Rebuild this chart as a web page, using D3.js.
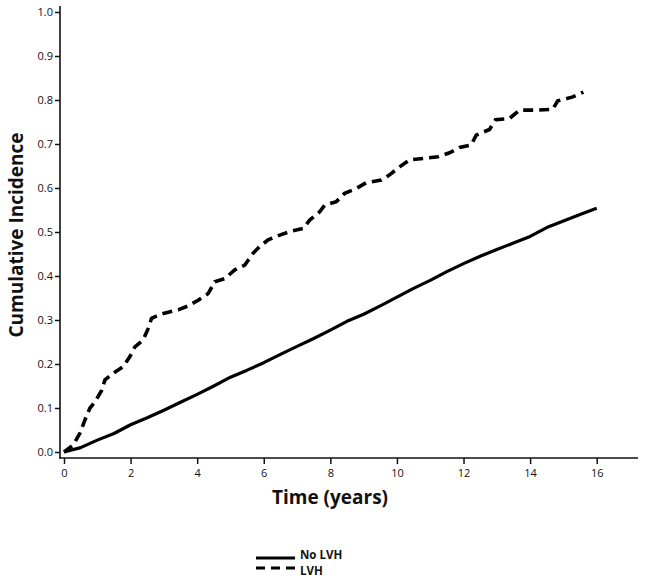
<!DOCTYPE html>
<html><head><meta charset="utf-8">
<script src="https://cdn.jsdelivr.net/npm/d3@7"></script>
<style>body{margin:0;background:#fff}svg{display:block}</style>
</head><body>
<svg id="c" width="645" height="583"></svg>
<script>
// Data
const seriesNames = ["No LVH", "LVH"];
const xTicks = [0, 2, 4, 6, 8, 10, 12, 14, 16];
const yTicks = [0.0, 0.1, 0.2, 0.3, 0.4, 0.5, 0.6, 0.7, 0.8, 0.9, 1.0];
const noLvhTime = [0,0.5,1,1.5,2,2.5,3,3.5,4,4.5,5,5.5,6,6.5,7,7.5,8,8.5,9,9.5,10,10.5,11,11.5,12,12.5,13,13.5,14,14.5,15,15.5,16];
const noLvhValue = [0,0.01,0.027,0.042,0.062,0.078,0.095,0.113,0.131,0.15,0.17,0.186,0.203,0.222,0.24,0.258,0.277,0.297,0.313,0.332,0.352,0.372,0.39,0.41,0.428,0.445,0.46,0.475,0.49,0.51,0.525,0.54,0.554];
const lvhTime = [0,0.28,0.48,0.63,0.78,0.93,1.13,1.23,1.48,1.78,1.98,2.13,2.38,2.53,2.63,2.93,3.43,3.73,4.03,4.33,4.53,4.83,5.13,5.43,5.68,5.88,6.13,6.48,6.78,7.18,7.38,7.68,7.83,8.18,8.43,8.78,9.08,9.53,9.78,10.08,10.38,10.78,11.23,11.58,11.88,12.23,12.38,12.78,12.96,13.38,13.68,14.18,14.68,14.83,15.28,15.6];
const lvhValue = [0,0.016,0.043,0.073,0.1,0.114,0.14,0.164,0.179,0.194,0.217,0.239,0.255,0.281,0.304,0.314,0.323,0.332,0.345,0.36,0.387,0.394,0.414,0.425,0.452,0.467,0.482,0.493,0.501,0.508,0.527,0.546,0.561,0.569,0.588,0.599,0.612,0.618,0.63,0.648,0.664,0.667,0.671,0.68,0.692,0.698,0.72,0.733,0.755,0.758,0.777,0.777,0.779,0.798,0.807,0.818];

const svg = d3.select("#c");
const x = d3.scaleLinear().domain([0, 16]).range([64, 596.7]);
const y = d3.scaleLinear().domain([0, 1]).range([452, 12]);
const font = "'Open Sans', 'DejaVu Sans', sans-serif";

// axes lines
svg.append("line").attr("x1", 60).attr("x2", 60).attr("y1", y(1) - 6).attr("y2", y(0) + 6.5)
  .attr("stroke", "#111").attr("stroke-width", 1.6);
svg.append("line").attr("x1", 59.2).attr("x2", 638).attr("y1", 458).attr("y2", 458)
  .attr("stroke", "#111").attr("stroke-width", 1.6);

const ya = svg.append("g").attr("transform", "translate(60,0)")
  .call(d3.axisLeft(y).tickValues(yTicks).tickFormat(d3.format(".1f")).tickSize(5).tickPadding(2).tickSizeOuter(0));
ya.select(".domain").remove();
ya.selectAll("line").attr("stroke", "#111").attr("stroke-width", 1.5);
ya.selectAll("text").attr("font-family", font).attr("font-size", 11).attr("fill", "#111");

const xa = svg.append("g").attr("transform", "translate(0,458)")
  .call(d3.axisBottom(x).tickValues(xTicks).tickFormat(d3.format("d")).tickSize(6).tickPadding(5).tickSizeOuter(0));
xa.select(".domain").remove();
xa.selectAll("line").attr("stroke", "#111").attr("stroke-width", 1.5);
xa.selectAll("text").attr("font-family", font).attr("font-size", 11).attr("fill", "#111");

// titles
svg.append("text").attr("transform", "translate(23,235) rotate(-90)").attr("text-anchor", "middle")
  .attr("font-family", font).attr("font-weight", "bold").attr("font-size", 19).attr("fill", "#111")
  .text("Cumulative Incidence");
svg.append("text").attr("x", 330).attr("y", 504).attr("text-anchor", "middle")
  .attr("font-family", font).attr("font-weight", "bold").attr("font-size", 19).attr("fill", "#111")
  .text("Time (years)");

// lines
const line = d3.line().x(d => x(d[0])).y(d => y(d[1]));
const noLvh = noLvhTime.map((t, i) => [t, noLvhValue[i]]);
const lvh = lvhTime.map((t, i) => [t, lvhValue[i]]);
svg.append("path").attr("d", line(noLvh)).attr("fill", "none").attr("stroke", "#000")
  .attr("stroke-width", 3.2).attr("stroke-linejoin", "round");
svg.append("path").attr("d", line(lvh)).attr("fill", "none").attr("stroke", "#000")
  .attr("stroke-width", 3.6).attr("stroke-dasharray", "10,6");

// legend
const lg = svg.append("g");
seriesNames.forEach((n, i) => {
  const base = 559 + i * 16;
  lg.append("line").attr("x1", 256).attr("x2", 295).attr("y1", 558 + i * 10).attr("y2", 558 + i * 10)
    .attr("stroke", "#000").attr("stroke-width", 3.2)
    .attr("stroke-dasharray", i === 1 ? "9,6" : null);
  lg.append("text").attr("x", 300).attr("y", base).attr("font-family", font)
    .attr("font-weight", "bold").attr("font-size", 11.5).attr("fill", "#111").text(n);
});
</script>
</body></html>
